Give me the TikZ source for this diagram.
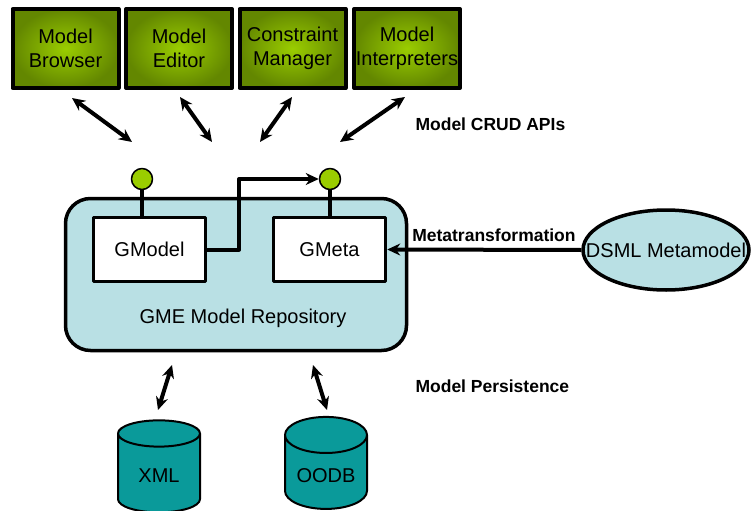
\documentclass[tikz,border=0pt]{standalone}
\usepackage{fontspec}
\setmainfont{Liberation Sans}
\usetikzlibrary{arrows.meta,shapes.geometric}
\definecolor{toolgreen}{HTML}{9ACD00}
\definecolor{tooldark}{HTML}{638700}
\definecolor{repoblue}{HTML}{B9E0E4}
\definecolor{dbteal}{HTML}{0A9A9A}
\begin{document}
\begin{tikzpicture}[x=1pt, y=-1pt, line join=round, >={Stealth[length=13pt,width=12pt]},
		font=\fontsize{20}{24}\selectfont,
		tool/.style={draw, line width=4pt, inner sep=0pt, minimum width=106, minimum height=79, inner color=toolgreen, outer color=tooldark, align=center},
		part/.style={draw, line width=3.5pt, fill=white, minimum width=112, minimum height=64},
		lolli/.style={circle, draw, line width=1.5pt, fill=toolgreen, inner sep=0pt, minimum size=21},
		db/.style={cylinder, shape border rotate=90, aspect=0.55, draw, line width=2pt, fill=dbteal, minimum width=82, minimum height=92},
		lbl/.style={font=\fontsize{17.5}{20}\selectfont\bfseries},
		link/.style={line width=4pt}]
	\useasboundingbox (0,0) rectangle (752,511);
	% outils en haut
	\node[tool] (browser) at (65.5,48.5) {Model\\Browser};
	\node[tool] (editor) at (179,48.5) {Model\\Editor};
	\node[tool] (constraint) at (292.5,48.5) {Constraint\\Manager};
	\node[tool] (interp) at (407,48.5) {Model\\Interpreters};
	% fleches CRUD (bouts libres)
	\foreach \n/\xa/\ya/\xb/\yb in {a/72/98/132/142, b/180/97/212/142, c/292/97/260/142, d/405/97/340/142}{
		\coordinate (crud\n1) at (\xa,\ya);
		\coordinate (crud\n2) at (\xb,\yb);
		\draw[link,<->] (crud\n1) -- (crud\n2);
	}
	\node[lbl, anchor=west] (crudlbl) at (412,124) {Model CRUD APIs};
	% depot
	\node[draw, line width=3.5pt, fill=repoblue, rounded corners=25, minimum width=341, minimum height=152] (repo) at (236,274.5) {};
	\node (repolbl) at (243,318) {GME Model Repository};
	\node[part] (gmodel) at (149.5,249.5) {GModel};
	\node[part] (gmeta) at (329.5,249.5) {GMeta};
	\node[lolli] (lola) at (142,179) {};
	\node[lolli] (lolb) at (330,179) {};
	\draw[link] (lola.south) -- (lola.south |- gmodel.north);
	\draw[link] (lolb.south) -- (lolb.south |- gmeta.north);
	\draw[link,->] (gmodel.east) -- ++(32,0) |- (lolb.west);
	% metamodele
	\node[ellipse, draw, line width=3.5pt, fill=repoblue, minimum width=166, minimum height=80] (dsml) at (666,250) {};
	\node (dsmllbl) at (dsml) {DSML Metamodel};
	\draw[link,->] (dsml.west) -- node[lbl, above=3pt, pos=0.45] (metalbl) {Metatransformation} (gmeta.east);
	% persistance
	\foreach \n/\xa/\ya/\xb/\yb in {a/172/365/158/410, b/313/365/327/410}{
		\coordinate (pers\n1) at (\xa,\ya);
		\coordinate (pers\n2) at (\xb,\yb);
		\draw[link,<->] (pers\n1) -- (pers\n2);
	}
	\node[lbl, anchor=west] (perslbl) at (412,386) {Model Persistence};
	\node[db] (xml) at (159,476) {XML};
	\node[db] (oodb) at (326,476) {OODB};
\end{tikzpicture}
\end{document}
